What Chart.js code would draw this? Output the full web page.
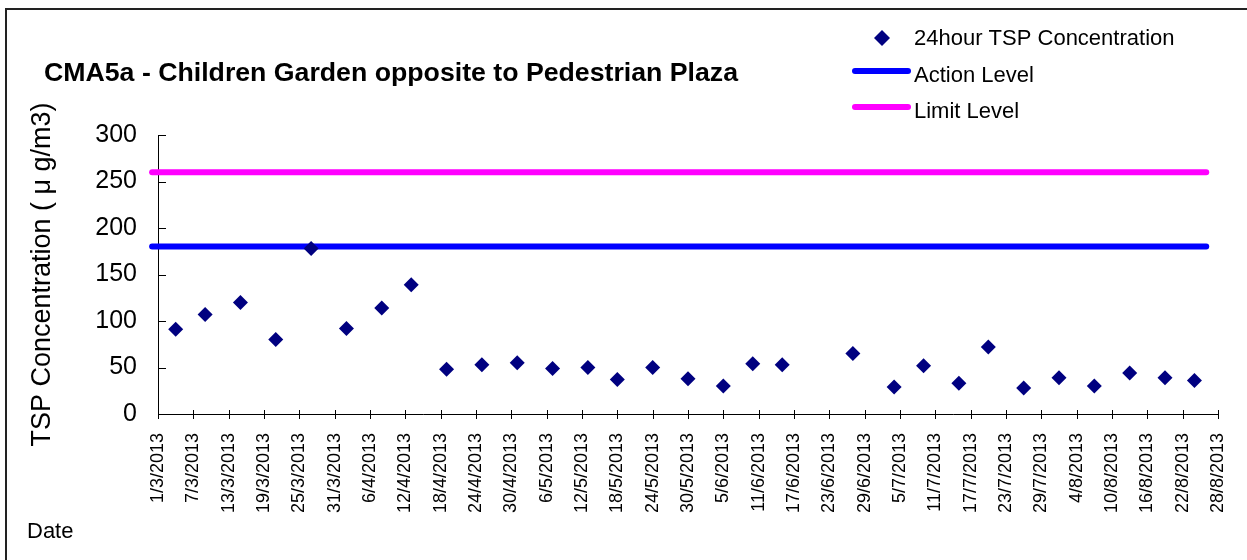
<!DOCTYPE html>
<html lang="en">
<head>
<meta charset="UTF-8">
<title>CMA5a - Children Garden opposite to Pedestrian Plaza</title>
<script src="https://cdn.jsdelivr.net/npm/chart.js"></script>
<style>
  html, body { margin: 0; padding: 0; background: #fff; overflow: hidden; }
  .wrap { position: relative; width: 1247px; height: 560px; }
</style>
</head>
<body>
<div class="wrap"><canvas id="tspChart" width="1247" height="560"></canvas></div>
<script>
const chartTitle = 'CMA5a - Children Garden opposite to Pedestrian Plaza';
const seriesLabels = ['24hour TSP Concentration', 'Action Level', 'Limit Level'];
const axisStart = '1/3/2013';

// sampling days and 24h TSP readings (ug/m3)
const sampleDates = [
  '4/3/2013', '9/3/2013', '15/3/2013', '21/3/2013', '27/3/2013', '2/4/2013',
  '8/4/2013', '13/4/2013', '19/4/2013', '25/4/2013', '1/5/2013', '7/5/2013',
  '13/5/2013', '18/5/2013', '24/5/2013', '30/5/2013', '5/6/2013', '10/6/2013',
  '15/6/2013', '27/6/2013', '4/7/2013', '9/7/2013', '15/7/2013', '20/7/2013',
  '26/7/2013', '1/8/2013', '7/8/2013', '13/8/2013', '19/8/2013', '24/8/2013'
];
const tspValues = [
  91, 107, 120, 80, 178, 92,
  114, 139, 48, 53, 55, 49,
  50, 37, 50, 38, 30, 54,
  53, 65, 29, 52, 33, 72,
  28, 39, 30, 44, 39, 36
];

const actionLevel = 180;
const limitLevel = 260;
const levelDates = ['28/2/2013', '26/8/2013'];

const tickLabels = [
  '1/3/2013', '7/3/2013', '13/3/2013', '19/3/2013', '25/3/2013', '31/3/2013',
  '6/4/2013', '12/4/2013', '18/4/2013', '24/4/2013', '30/4/2013', '6/5/2013',
  '12/5/2013', '18/5/2013', '24/5/2013', '30/5/2013', '5/6/2013', '11/6/2013',
  '17/6/2013', '23/6/2013', '29/6/2013', '5/7/2013', '11/7/2013', '17/7/2013',
  '23/7/2013', '29/7/2013', '4/8/2013', '10/8/2013', '16/8/2013', '22/8/2013',
  '28/8/2013'
];

const FONT = 'Arial, "Liberation Sans", Helvetica, sans-serif';
const NAVY = '#000080';
const BLUE = '#0000ff';
const PINK = '#ff00ff';

// d/m/yyyy -> days since axisStart
function dayOf(s) {
  const p = s.split('/').map(Number);
  const q = axisStart.split('/').map(Number);
  return Math.round((Date.UTC(p[2], p[1] - 1, p[0]) - Date.UTC(q[2], q[1] - 1, q[0])) / 86400000);
}

Chart.defaults.font.family = FONT;
Chart.defaults.color = '#000';

// frame, title, legend, "Date" and the little tick marks
const decorations = {
  id: 'decorations',
  beforeDraw(chart) {
    const ctx = chart.ctx;
    ctx.save();
    ctx.fillStyle = '#fff';
    ctx.fillRect(0, 0, chart.width, chart.height);
    ctx.strokeStyle = '#222';
    ctx.lineWidth = 2;
    ctx.strokeRect(6, 9, chart.width + 10, chart.height + 10);
    ctx.restore();
  },
  afterDraw(chart) {
    const ctx = chart.ctx;
    const area = chart.chartArea;
    const xs = chart.scales.x, ys = chart.scales.y;
    ctx.save();

    ctx.strokeStyle = '#000';
    ctx.lineWidth = 1;
    ctx.beginPath();
    ys.ticks.forEach(t => {
      const py = Math.round(ys.getPixelForValue(t.value)) + 0.5;
      ctx.moveTo(area.left, py);
      ctx.lineTo(area.left + 8, py);
    });
    xs.ticks.forEach(t => {
      const px = Math.round(xs.getPixelForValue(t.value)) + 0.5;
      ctx.moveTo(px, area.bottom - 4);
      ctx.lineTo(px, area.bottom + 5);
    });
    ctx.stroke();

    ctx.fillStyle = '#000';
    ctx.textAlign = 'left';
    ctx.textBaseline = 'alphabetic';
    ctx.font = 'bold 26.7px ' + FONT;
    ctx.fillText(chartTitle, 44, 81);

    ctx.font = '22px ' + FONT;
    ctx.fillText('Date', 27, 538);

    // legend
    const ds = chart.data.datasets;
    ctx.fillStyle = ds[0].backgroundColor;
    ctx.beginPath();
    ctx.moveTo(882, 30); ctx.lineTo(890, 38); ctx.lineTo(882, 46); ctx.lineTo(874, 38);
    ctx.closePath();
    ctx.fill();
    ctx.lineCap = 'round';
    ctx.lineWidth = 6;
    [[ds[1], 71], [ds[2], 107]].forEach(([d, y]) => {
      ctx.strokeStyle = d.borderColor;
      ctx.beginPath();
      ctx.moveTo(855, y);
      ctx.lineTo(908, y);
      ctx.stroke();
    });
    ctx.fillStyle = '#000';
    ctx.fillText(ds[0].label, 914, 45);
    ctx.fillText(ds[1].label, 914, 82);
    ctx.fillText(ds[2].label, 914, 118);
    ctx.restore();
  }
};

new Chart(document.getElementById('tspChart'), {
  type: 'scatter',
  data: {
    datasets: [
      {
        label: seriesLabels[0],
        data: sampleDates.map((d, i) => ({ x: dayOf(d), y: tspValues[i] })),
        pointStyle: 'rectRot',
        pointRadius: 7.5,
        borderWidth: 0,
        backgroundColor: NAVY,
        borderColor: NAVY,
        showLine: false,
        order: 0
      },
      {
        label: seriesLabels[1],
        type: 'line',
        data: levelDates.map(d => ({ x: dayOf(d), y: actionLevel })),
        borderColor: BLUE,
        backgroundColor: BLUE,
        borderWidth: 6,
        borderCapStyle: 'round',
        pointRadius: 0,
        showLine: true,
        clip: false,
        order: 1
      },
      {
        label: seriesLabels[2],
        type: 'line',
        data: levelDates.map(d => ({ x: dayOf(d), y: limitLevel })),
        borderColor: PINK,
        backgroundColor: PINK,
        borderWidth: 6,
        borderCapStyle: 'round',
        pointRadius: 0,
        showLine: true,
        clip: false,
        order: 2
      }
    ]
  },
  options: {
    responsive: false,
    animation: false,
    layout: { padding: { left: 8, right: 29, top: 135, bottom: 0 } },
    plugins: {
      legend: { display: false },
      title: { display: false },
      tooltip: { enabled: false }
    },
    scales: {
      x: {
        type: 'linear',
        min: dayOf(tickLabels[0]),
        max: dayOf(tickLabels[tickLabels.length - 1]),
        afterBuildTicks: s => { s.ticks = tickLabels.map(l => ({ value: dayOf(l) })); },
        afterFit: s => { s.height = 146; s.paddingLeft = 0; s.paddingRight = 0; },
        ticks: {
          autoSkip: false,
          minRotation: 90,
          maxRotation: 90,
          padding: 19,
          font: { size: 18 },
          callback: (v, i) => tickLabels[i]
        },
        grid: { display: false, drawTicks: false },
        border: { display: true, color: '#000', width: 1 }
      },
      y: {
        min: 0,
        max: 300,
        afterFit: s => { s.width = 150; },
        ticks: { stepSize: 50, padding: 21, font: { size: 25 } },
        title: {
          display: true,
          text: 'TSP Concentration ( \u03bc g/m3)',
          font: { size: 27 },
          padding: { top: 18, bottom: 0 }
        },
        grid: { display: false, drawTicks: false },
        border: { display: true, color: '#000', width: 1 }
      }
    }
  },
  plugins: [decorations]
});
</script>
</body>
</html>
